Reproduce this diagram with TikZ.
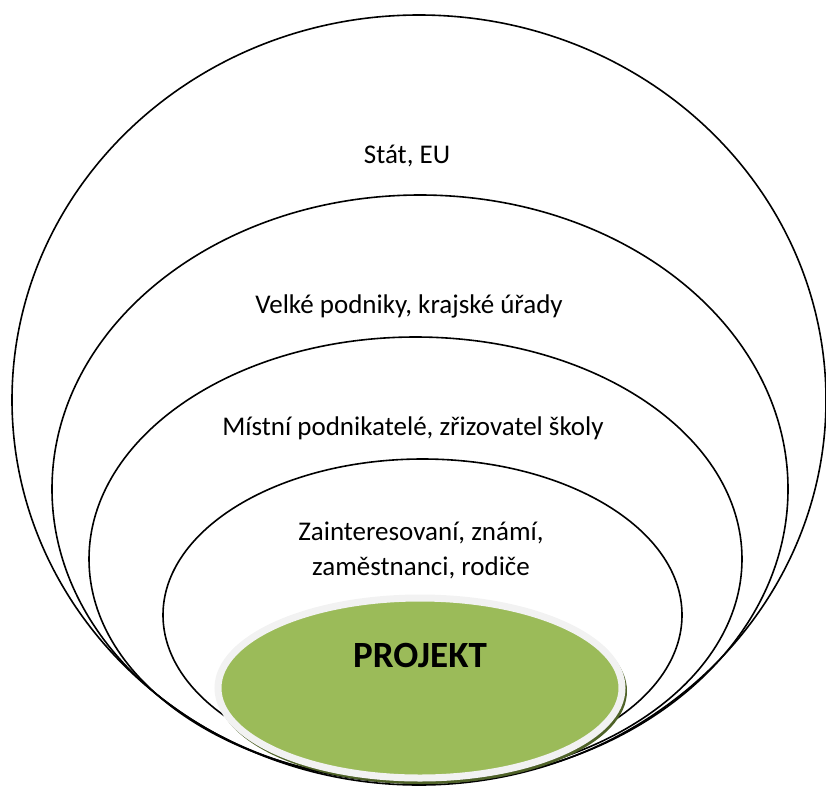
\documentclass[tikz,border=0pt]{standalone}
\usepackage{fontspec}
\setmainfont{Carlito}
\usetikzlibrary{shapes.geometric}

\definecolor{leafgreen}{HTML}{9BBB59}
\definecolor{leafdark}{HTML}{4F6228}
\definecolor{rimgrey}{HTML}{F2F2F2}

\tikzset{
  ring/.style={ellipse, draw=black, line width=1.6pt, inner sep=0pt, outer sep=0pt},
  label/.style={font=\fontsize{27}{35}\selectfont, inner sep=0pt, align=center, anchor=base},
}

\begin{document}
\begin{tikzpicture}[x=1pt, y=-1pt]
  \useasboundingbox (0,0) rectangle (826,787);

  % nested circles of stakeholders
  \node[ring, minimum width=814pt, minimum height=770pt] (state) at (419,400) {};
  \node[ring, minimum width=736pt, minimum height=588pt] (region) at (420,489) {};
  \node[ring, minimum width=653pt, minimum height=444pt] (local) at (415.5,559) {};
  \node[ring, minimum width=519pt, minimum height=312pt] (close) at (422.5,615) {};

  % the project at the core, with its shadow and light rim
  \node[ellipse, fill=leafdark, inner sep=0pt, minimum width=410pt, minimum height=186pt] (shadow) at (422,691) {};
  \node[ellipse, fill=leafgreen, draw=rimgrey, line width=7pt, inner sep=0pt,
        minimum width=404pt, minimum height=180pt] (core) at (420,688) {};

  % labels
  \node[label] (tstate) at (407,163) {Stát, EU};
  \node[label] (tregion) at (409,313) {Velké podniky, krajské úřady};
  \node[label] (tlocal) at (413,435) {Místní podnikatelé, zřizovatel školy};
  \node[label] (tclose1) at (421,540) {Zainteresovaní, známí,};
  \node[label] (tclose2) at (421,575) {zaměstnanci, rodiče};
  \node[label, font=\fontsize{37}{44}\selectfont\bfseries] (tcore) at (420,667) {PROJEKT};
\end{tikzpicture}
\end{document}
